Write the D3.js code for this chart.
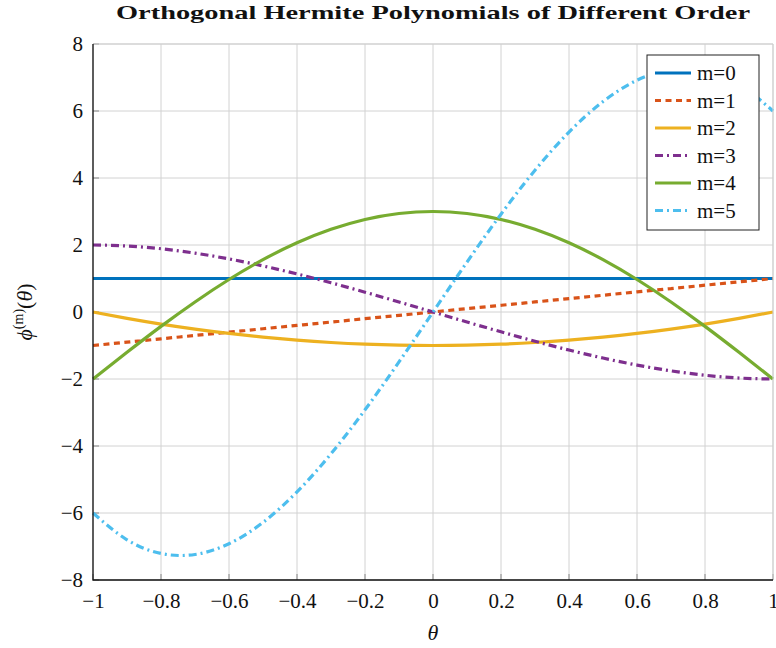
<!DOCTYPE html>
<html>
<head>
<meta charset="utf-8">
<script src="https://cdn.jsdelivr.net/npm/d3@7"></script>
<style>
  html, body { margin: 0; padding: 0; background: #fff; }
  svg { display: block; font-family: "Liberation Serif", "DejaVu Serif", serif; }
</style>
</head>
<body>
<svg id="chart" width="776" height="648"></svg>
<script>
// Sample points on θ ∈ [-1, 1]
const theta = [-1, -0.9, -0.8, -0.7, -0.6, -0.5, -0.4, -0.3, -0.2, -0.1, 0,
               0.1, 0.2, 0.3, 0.4, 0.5, 0.6, 0.7, 0.8, 0.9, 1];

const m0 = [1, 1, 1, 1, 1, 1, 1, 1, 1, 1, 1, 1, 1, 1, 1, 1, 1, 1, 1, 1, 1];
const m1 = [-1, -0.9, -0.8, -0.7, -0.6, -0.5, -0.4, -0.3, -0.2, -0.1, 0,
            0.1, 0.2, 0.3, 0.4, 0.5, 0.6, 0.7, 0.8, 0.9, 1];
const m2 = [0, -0.19, -0.36, -0.51, -0.64, -0.75, -0.84, -0.91, -0.96, -0.99, -1,
            -0.99, -0.96, -0.91, -0.84, -0.75, -0.64, -0.51, -0.36, -0.19, 0];
const m3 = [2, 1.971, 1.888, 1.757, 1.584, 1.375, 1.136, 0.873, 0.592, 0.299, 0,
            -0.299, -0.592, -0.873, -1.136, -1.375, -1.584, -1.757, -1.888, -1.971, -2];
const m4 = [-2, -1.204, -0.430, 0.300, 0.970, 1.563, 2.066, 2.468, 2.762, 2.940, 3,
            2.940, 2.762, 2.468, 2.066, 1.563, 0.970, 0.300, -0.430, -1.204, -2];
const m5 = [-6, -6.800, -7.208, -7.238, -6.918, -6.281, -5.370, -4.232, -2.920, -1.490, 0,
            1.490, 2.920, 4.232, 5.370, 6.281, 6.918, 7.238, 7.208, 6.800, 6];

const seriesNames = ["m=0", "m=1", "m=2", "m=3", "m=4", "m=5"];
const seriesValues = [m0, m1, m2, m3, m4, m5];
const colors = ["#0072BD", "#D95319", "#EDB120", "#7E2F8E", "#77AC30", "#4DBEEE"];
const dashes = [null, "6,4.5", null, "8,4,2,4", null, "8,4,2,4"];

const xTicks = [-1, -0.8, -0.6, -0.4, -0.2, 0, 0.2, 0.4, 0.6, 0.8, 1];
const yTicks = [-8, -6, -4, -2, 0, 2, 4, 6, 8];

const svg = d3.select("#chart");
const plotL = 93, plotR = 773, plotT = 44, plotB = 580;

const x = d3.scaleLinear().domain([-1, 1]).range([plotL, plotR]);
const y = d3.scaleLinear().domain([-8, 8]).range([plotB, plotT]);

const fmt = v => (v < 0 ? "\u2212" : "") + String(Math.abs(v));

// Grid
const grid = svg.append("g").attr("stroke", "#d2d2d2").attr("stroke-width", 1);
grid.selectAll("line.gx").data(xTicks).join("line")
  .attr("x1", d => x(d)).attr("x2", d => x(d))
  .attr("y1", plotT).attr("y2", plotB);
grid.selectAll("line.gy").data(yTicks).join("line")
  .attr("x1", plotL).attr("x2", plotR)
  .attr("y1", d => y(d)).attr("y2", d => y(d));

// Inward tick marks
const tk = svg.append("g").attr("stroke", "#888").attr("stroke-width", 1);
tk.selectAll("line.tx").data(xTicks).join("line")
  .attr("x1", d => x(d)).attr("x2", d => x(d))
  .attr("y1", plotB).attr("y2", plotB - 6);
tk.selectAll("line.ty").data(yTicks).join("line")
  .attr("x1", plotL).attr("x2", plotL + 6)
  .attr("y1", d => y(d)).attr("y2", d => y(d));

// Series
const line = d3.line()
  .x((d, i) => x(theta[i]))
  .y(d => y(d))
  .curve(d3.curveNatural);

const plot = svg.append("g");
seriesValues.forEach((vals, k) => {
  plot.append("path")
    .datum(vals)
    .attr("d", line)
    .attr("fill", "none")
    .attr("stroke", colors[k])
    .attr("stroke-width", 3.2)
    .attr("stroke-dasharray", dashes[k]);
});

// Axis frame
svg.append("path")
  .attr("d", `M${plotL},${plotT}H${plotR}V${plotB}`)
  .attr("fill", "none").attr("stroke", "#cfcfcf").attr("stroke-width", 1);
svg.append("path")
  .attr("d", `M${plotL},${plotT}V${plotB}H${plotR}`)
  .attr("fill", "none").attr("stroke", "#111").attr("stroke-width", 1.3);

// Tick labels via d3 axes (tick lines drawn above)
const xAxis = d3.axisBottom(x).tickValues(xTicks).tickFormat(fmt).tickSize(0).tickPadding(0);
const gx = svg.append("g").attr("transform", `translate(0,${plotB})`).call(xAxis);
gx.select(".domain").remove();
gx.selectAll("text").attr("font-size", 21).attr("fill", "#111")
  .attr("font-family", "Liberation Serif, serif")
  .attr("dy", null).attr("y", 28);

const yAxis = d3.axisLeft(y).tickValues(yTicks).tickFormat(fmt).tickSize(0).tickPadding(0);
const gy = svg.append("g").attr("transform", `translate(${plotL},0)`).call(yAxis);
gy.select(".domain").remove();
gy.selectAll("text").attr("font-size", 21).attr("fill", "#111")
  .attr("font-family", "Liberation Serif, serif")
  .attr("x", -10).attr("dy", "0.33em");

// Title
svg.append("text")
  .attr("x", (plotL + plotR) / 2).attr("y", 19)
  .attr("text-anchor", "middle")
  .attr("font-size", 19).attr("font-weight", "bold")
  .attr("font-family", "Liberation Serif, serif")
  .attr("fill", "#111")
  .attr("textLength", 634).attr("lengthAdjust", "spacingAndGlyphs")
  .text("Orthogonal Hermite Polynomials of Different Order");

// X label
svg.append("text")
  .attr("x", x(0)).attr("y", 640)
  .attr("text-anchor", "middle")
  .attr("font-size", 22).attr("font-style", "italic")
  .attr("font-family", "Liberation Serif, serif")
  .attr("fill", "#111")
  .text("θ");

// Y label
const yl = svg.append("text")
  .attr("transform", `translate(32,${(plotT + plotB) / 2}) rotate(-90)`)
  .attr("text-anchor", "middle")
  .attr("font-family", "Liberation Serif, serif")
  .attr("font-size", 22).attr("fill", "#111");
yl.append("tspan").attr("font-style", "italic").text("ϕ");
yl.append("tspan").attr("font-size", 14).attr("dy", -9).text("(m)");
yl.append("tspan").attr("dy", 9).text("(");
yl.append("tspan").attr("font-style", "italic").text("θ");
yl.append("tspan").text(")");

// Legend
const lg = svg.append("g");
lg.append("rect")
  .attr("x", 647).attr("y", 55).attr("width", 112).attr("height", 175)
  .attr("fill", "#fff").attr("stroke", "#222").attr("stroke-width", 1);
seriesNames.forEach((name, k) => {
  const cy = 73 + k * 27.5;
  lg.append("line")
    .attr("x1", 655).attr("x2", 691).attr("y1", cy).attr("y2", cy)
    .attr("stroke", colors[k]).attr("stroke-width", 3.2)
    .attr("stroke-dasharray", dashes[k]);
  lg.append("text")
    .attr("x", 697).attr("y", cy).attr("dy", "0.35em")
    .attr("font-size", 21).attr("fill", "#111")
    .attr("font-family", "Liberation Serif, serif")
    .text(name);
});
</script>
</body>
</html>
